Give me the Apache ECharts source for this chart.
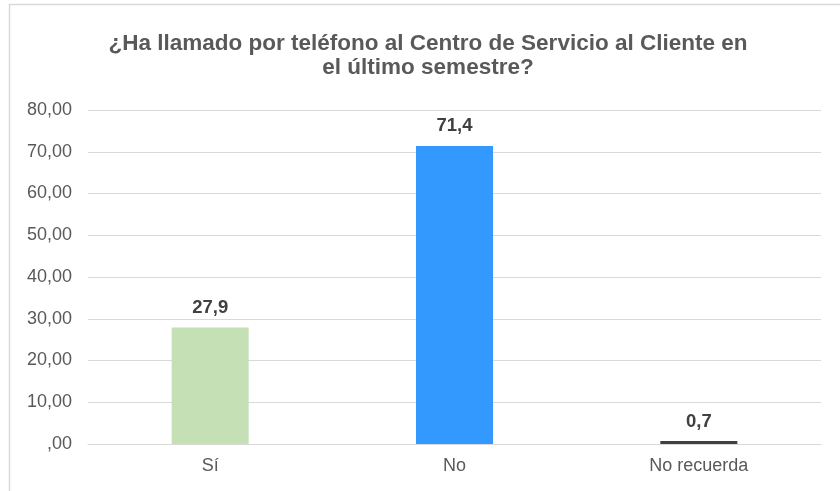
<!DOCTYPE html>
<html>
<head>
<meta charset="utf-8">
<script src="https://cdn.jsdelivr.net/npm/echarts@6/dist/echarts.min.js"></script>
<style>
  html, body { margin: 0; padding: 0; background: #fff; }
  #chart { width: 840px; height: 491px; }
</style>
</head>
<body>
<div id="chart"></div>
<script>
const TITLE = "¿Ha llamado por teléfono al Centro de Servicio al Cliente en\nel último semestre?";
const CATEGORIES = ["Sí", "No", "No recuerda"];
const VALUES = [27.9, 71.4, 0.7];
const BAR_COLORS = ["#c5e0b4", "#3399ff", "#404040"];

const chart = echarts.init(document.getElementById('chart'));
const fmtComma = (v, digits) => {
    const s = v.toFixed(digits).replace('.', ',');
    return v === 0 ? s.slice(1) : s;
};
const FONT = 'Liberation Sans, Arial, sans-serif';

chart.setOption({
    backgroundColor: '#fff',
    textStyle: { fontFamily: FONT },
    title: {
        text: TITLE,
        left: 423,
        top: 27,
        textAlign: 'center',
        textStyle: {
            fontSize: 22.5,
            fontWeight: 'bold',
            color: '#595959',
            lineHeight: 24,
            fontFamily: FONT
        }
    },
    graphic: [{
        type: 'polyline',
        shape: { points: [[9.5, 500], [9.5, 4.5], [850, 4.5]] },
        style: { stroke: '#d9d9d9', lineWidth: 1.5, fill: null }
    }],
    grid: { left: 88, right: 19, top: 110, bottom: 47 },
    xAxis: {
        type: 'category',
        data: CATEGORIES,
        axisLine: { lineStyle: { color: '#d9d9d9', width: 1 } },
        axisTick: { show: false },
        axisLabel: { color: '#595959', fontSize: 18, margin: 13 }
    },
    yAxis: {
        type: 'value',
        min: 0,
        max: 80,
        interval: 10,
        axisLine: { show: false },
        axisTick: { show: false },
        splitLine: { lineStyle: { color: '#d9d9d9', width: 1 } },
        axisLabel: { color: '#595959', fontSize: 18, margin: 16, formatter: v => fmtComma(v, 2) }
    },
    series: [{
        type: 'bar',
        barWidth: 77,
        data: VALUES.map((v, i) => ({ value: v, itemStyle: { color: BAR_COLORS[i] } })),
        label: {
            show: true,
            position: 'top',
            distance: 10,
            color: '#404040',
            fontSize: 18.5,
            fontWeight: 'bold',
            formatter: p => fmtComma(p.value, 1)
        }
    }]
});
</script>
</body>
</html>
